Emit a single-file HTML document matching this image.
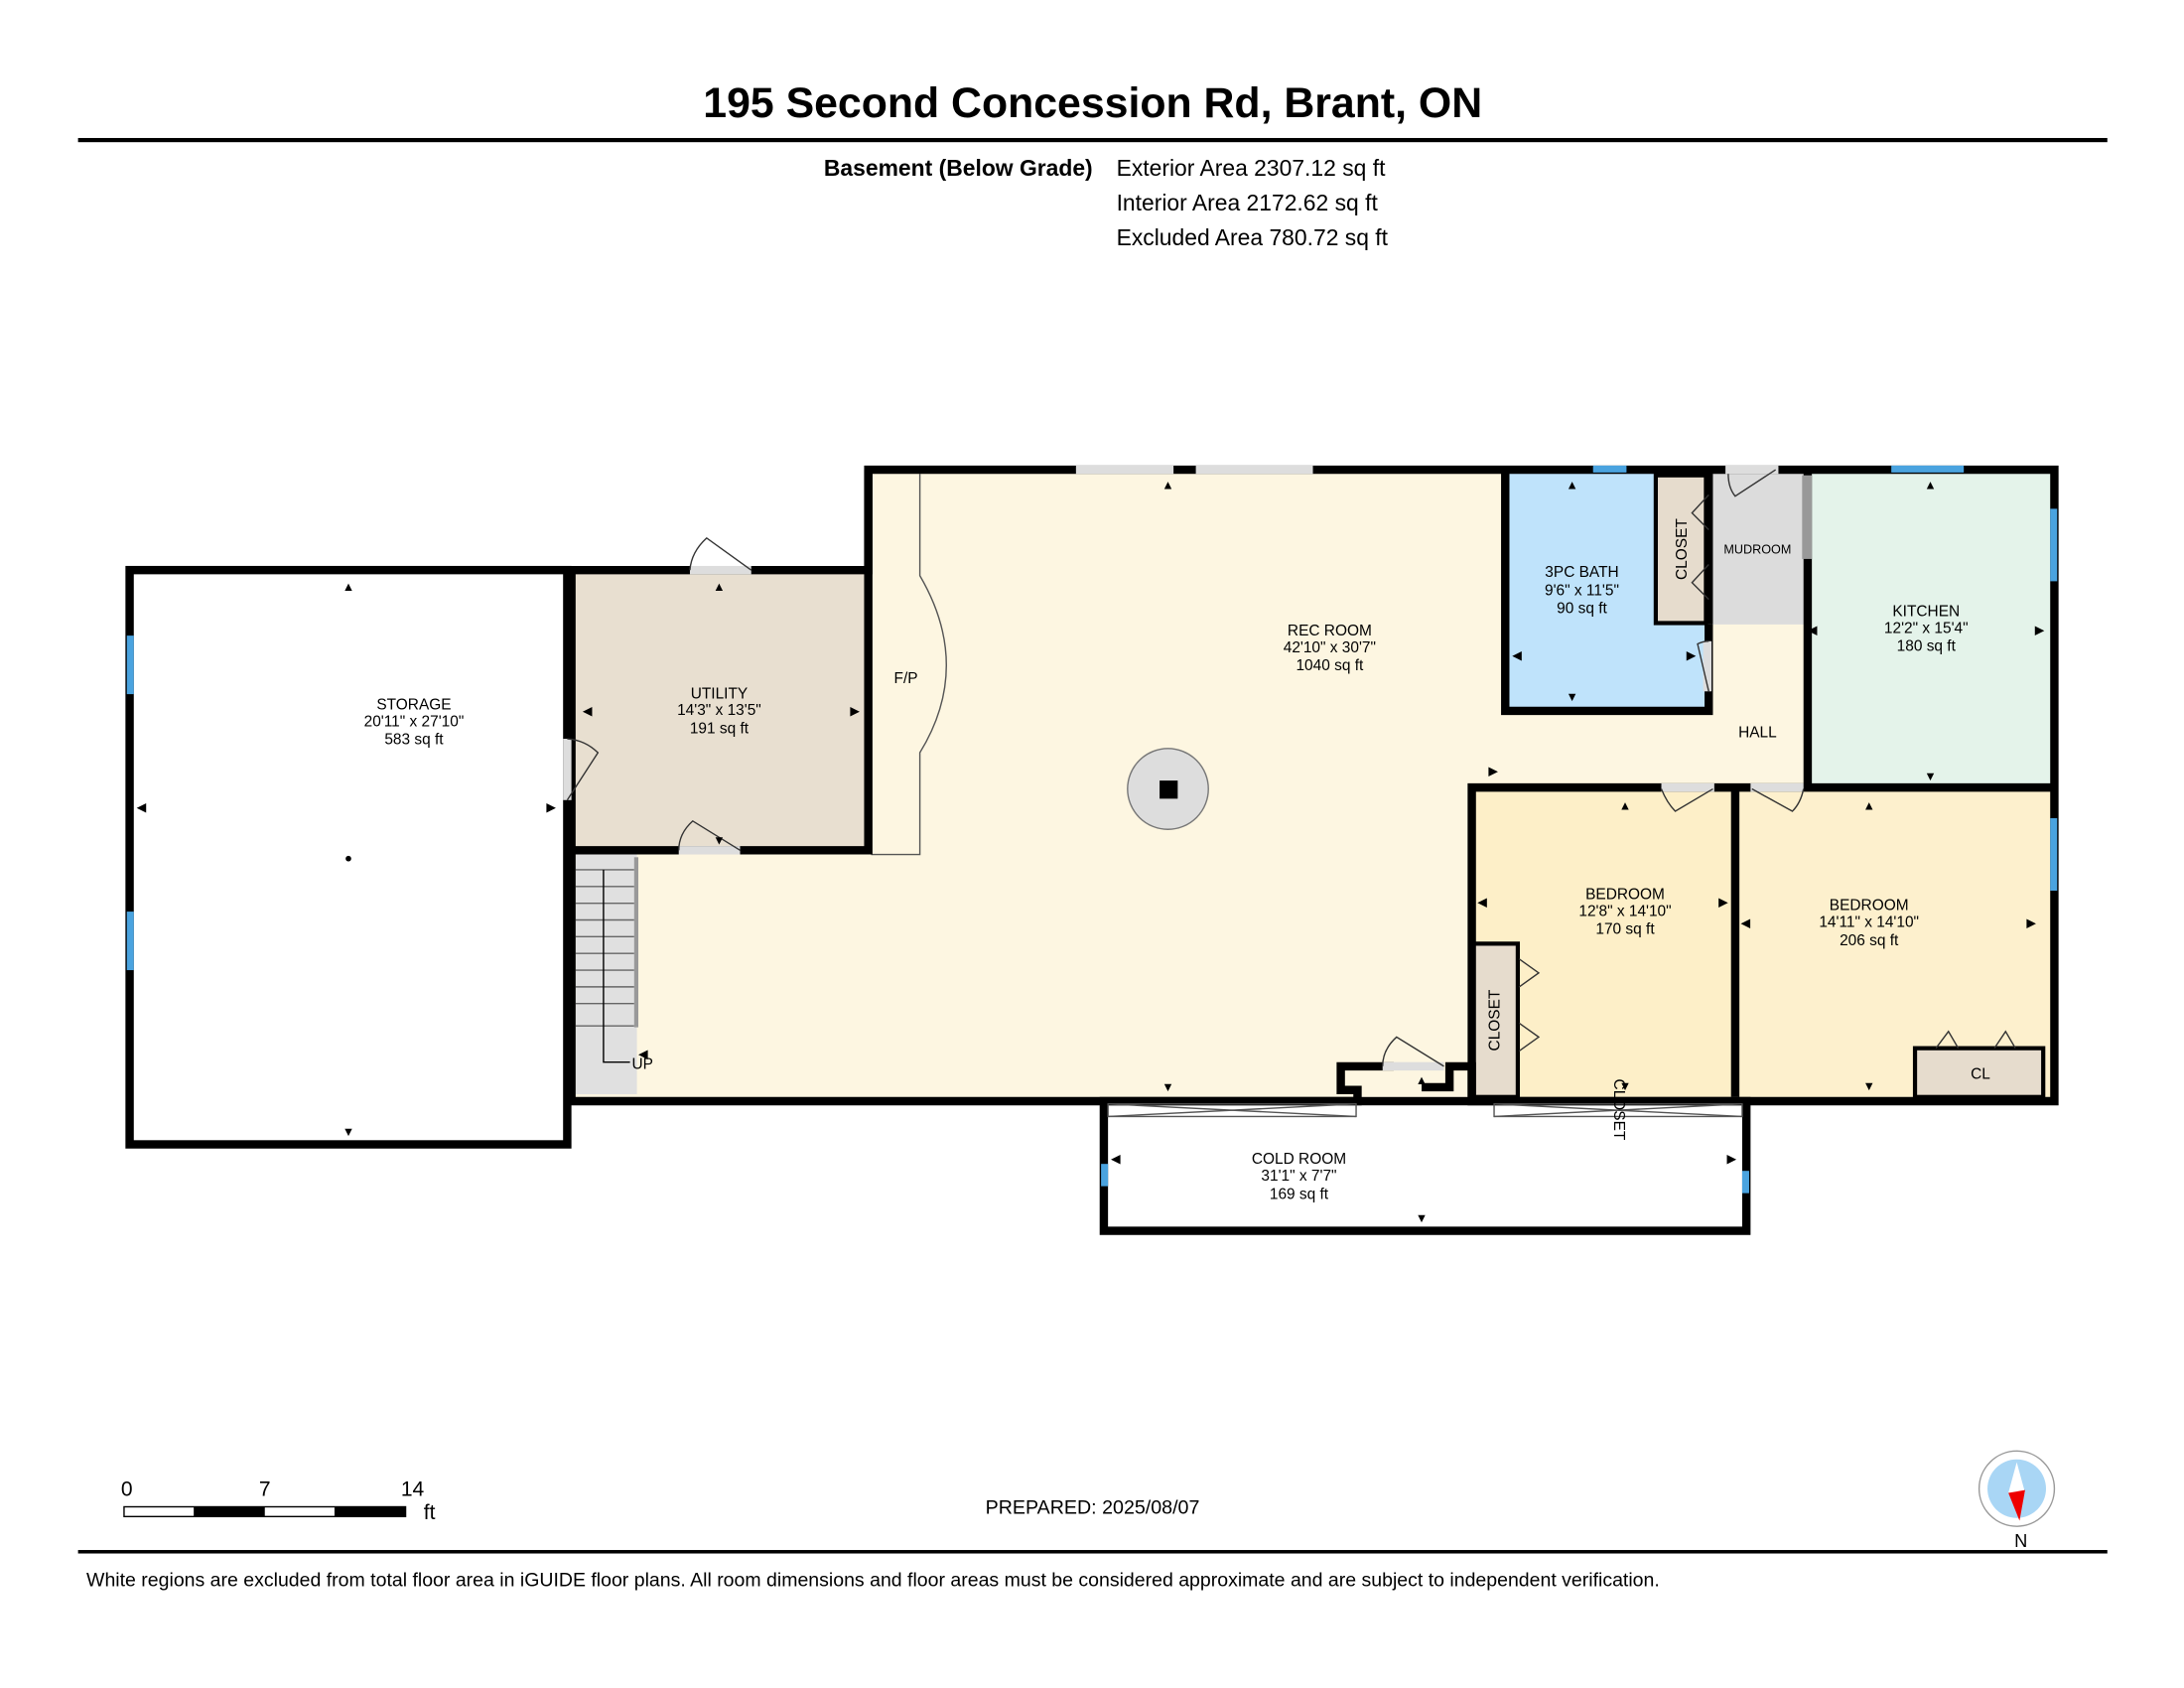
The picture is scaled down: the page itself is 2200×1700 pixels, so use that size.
<!DOCTYPE html>
<html><head><meta charset="utf-8"><style>
html,body{margin:0;padding:0;background:#fff;}
svg{display:block;}
text{font-family:"Liberation Sans",sans-serif;}
</style></head><body>
<svg width="2200" height="1700" viewBox="0 0 1567 1211" preserveAspectRatio="none" xmlns="http://www.w3.org/2000/svg">
<rect width="1600" height="1250" fill="#fff"/>
<text x="784" y="84" font-size="30.5" font-weight="bold" text-anchor="middle">195 Second Concession Rd, Brant, ON</text>
<rect x="56" y="99" width="1456" height="3" fill="#000"/>
<text x="784" y="126" font-size="16.3" font-weight="bold" text-anchor="end">Basement (Below Grade)</text>
<text x="801" y="126" font-size="16.3">Exterior Area 2307.12 sq ft</text>
<text x="801" y="151" font-size="16.3">Interior Area 2172.62 sq ft</text>
<text x="801" y="176" font-size="16.3">Excluded Area 780.72 sq ft</text>

<rect x="93" y="409" width="314" height="412" fill="#fff"/>
<rect x="410" y="410" width="213" height="200" fill="#e8dfd0"/>
<polygon points="623,337 1080,337 1080,510 1226,510 1226,448 1297,448 1297,565 1056,565 1056,787 410,787 410,610 623,610" fill="#fdf6e1"/>
<rect x="1080" y="337" width="146" height="173" fill="#bfe3fb"/>
<rect x="1226" y="337" width="71" height="111" fill="#dcdcdc"/>
<rect x="1188" y="341" width="36" height="106" fill="#e6dccd" stroke="#000" stroke-width="3"/>
<rect x="1297" y="337" width="177" height="228" fill="#e4f3ea"/>
<rect x="1056" y="565" width="189" height="222" fill="#fdefc8"/>
<rect x="1245" y="565" width="229" height="222" fill="#fdf0cd"/>
<rect x="1057" y="677" width="32" height="110" fill="#e6dccd" stroke="#000" stroke-width="3"/>
<rect x="1374" y="752" width="92" height="35" fill="#e6dccd" stroke="#000" stroke-width="3"/>
<rect x="413" y="613" width="44" height="172" fill="#e0e0e0"/>
<g stroke="#666" stroke-width="1">
<line x1="413" y1="624" x2="455" y2="624"/><line x1="413" y1="636" x2="455" y2="636"/><line x1="413" y1="648" x2="455" y2="648"/><line x1="413" y1="660" x2="455" y2="660"/><line x1="413" y1="672" x2="455" y2="672"/><line x1="413" y1="684" x2="455" y2="684"/><line x1="413" y1="696" x2="455" y2="696"/><line x1="413" y1="708" x2="455" y2="708"/><line x1="413" y1="720" x2="455" y2="720"/><line x1="413" y1="736" x2="455" y2="736"/>
<polyline points="433,624 433,762 452,762" fill="none" stroke="#000"/>
</g>
<rect x="455" y="615" width="3" height="122" fill="#999"/>
<g fill="none" stroke="#555" stroke-width="1">
<path d="M660,340 L660,413 Q698,478 660,540 L660,613 L625,613"/>
</g>
<g fill="none" stroke="#000" stroke-width="6" stroke-linejoin="miter">
<rect x="93" y="409" width="314" height="412"/>
<polyline points="407,409 623,409 623,337 1474,337 1474,790 1056,790 1056,765 1040,765 1040,780 1020,780"/>
<polyline points="1000,765 962,765 962,782 974,782 974,790 410,790 410,409"/>
<polyline points="410,610 623,610 623,337"/>
<polyline points="1080,337 1080,510 1226,510 1226,448"/>
<polyline points="1297,337 1297,565"/>
<polyline points="1226,337 1226,448"/>
<polyline points="1056,787 1056,565 1474,565"/>
<line x1="1245" y1="565" x2="1245" y2="787"/>
<rect x="792" y="790" width="461" height="93"/>
</g>
<g stroke="#555" stroke-width="1" fill="none">
<rect x="795" y="792" width="178" height="9"/><line x1="795" y1="792" x2="973" y2="801"/><line x1="795" y1="801" x2="973" y2="792"/>
<rect x="1072" y="792" width="178" height="9"/><line x1="1072" y1="792" x2="1250" y2="801"/><line x1="1072" y1="801" x2="1250" y2="792"/>
</g>
<g fill="#4aa3df">
<rect x="91" y="456" width="5" height="42"/><rect x="91" y="654" width="5" height="42"/>
<rect x="1143" y="334" width="24" height="5"/><rect x="1357" y="334" width="52" height="5"/>
<rect x="1471" y="365" width="5" height="52"/><rect x="1471" y="587" width="5" height="52"/>
<rect x="790" y="835" width="5" height="16"/><rect x="1250" y="840" width="5" height="16"/>
</g>
<g fill="#ddd">
<rect x="772" y="334" width="70" height="6"/><rect x="858" y="334" width="84" height="6"/>
<rect x="495" y="406" width="44" height="6"/><rect x="487" y="607" width="44" height="6"/>
<rect x="404" y="530" width="6" height="44"/><rect x="1238" y="334" width="38" height="6"/>
<rect x="1192" y="562" width="38" height="6"/><rect x="1256" y="562" width="38" height="6"/>
<rect x="992" y="762" width="44" height="6"/><rect x="1222" y="460" width="6" height="36"/>
<rect x="1293" y="341" width="7" height="60" fill="#999"/>
</g>
<g fill="none" stroke="#333" stroke-width="1">
<path d="M539,409 L507,386 Q496,396 495,409"/>
<path d="M531,610 L497,589 Q487,598 487,610"/>
<path d="M407,574 L429,540 Q420,531 407,530"/>
<path d="M1036,765 L1002,744 Q992,753 992,765"/>
<path d="M1240,340 Q1240,350 1245,356 L1274,337"/>
<path d="M1192,566 Q1196,576 1202,582 L1229,566"/>
<path d="M1294,566 Q1292,576 1286,582 L1257,566"/>
<path d="M1226,496 L1218,462 Q1222,460 1226,460"/>
<path d="M1226,355 L1214,368 L1226,380 M1226,405 L1214,418 L1226,430"/>
<path d="M1090,688 L1104,698 L1090,708 M1090,734 L1104,744 L1090,754"/>
<path d="M1389,752 L1398,740 L1405,752 M1431,752 L1439,740 L1446,752"/>
</g>
<circle cx="838" cy="566" r="29" fill="#ddd" stroke="#777"/>
<rect x="832" y="560" width="13" height="13" fill="#000"/>
<circle cx="250" cy="616" r="2" fill="#000"/>
<g fill="#000" font-size="9">
<text x="250" y="424" text-anchor="middle">▲</text><text x="250" y="815" text-anchor="middle">▼</text>
<text x="98" y="582">◀</text><text x="392" y="582">▶</text>
<text x="516" y="424" text-anchor="middle">▲</text><text x="516" y="606" text-anchor="middle">▼</text>
<text x="418" y="513">◀</text><text x="610" y="513">▶</text>
<text x="838" y="351" text-anchor="middle">▲</text><text x="838" y="783" text-anchor="middle">▼</text>
<text x="1068" y="556">▶</text><text x="458" y="759">◀</text>
<text x="1128" y="351" text-anchor="middle">▲</text><text x="1128" y="503" text-anchor="middle">▼</text>
<text x="1085" y="473">◀</text><text x="1210" y="473">▶</text>
<text x="1385" y="351" text-anchor="middle">▲</text><text x="1385" y="560" text-anchor="middle">▼</text>
<text x="1297" y="455">◀</text><text x="1460" y="455">▶</text>
<text x="1166" y="581" text-anchor="middle">▲</text><text x="1166" y="782" text-anchor="middle">▼</text>
<text x="1060" y="650">◀</text><text x="1233" y="650">▶</text>
<text x="1341" y="581" text-anchor="middle">▲</text><text x="1341" y="782" text-anchor="middle">▼</text>
<text x="1249" y="665">◀</text><text x="1454" y="665">▶</text>
<text x="1020" y="778" text-anchor="middle">▲</text><text x="1020" y="877" text-anchor="middle">▼</text>
<text x="797" y="834">◀</text><text x="1239" y="834">▶</text>
</g>
<g font-size="11" text-anchor="middle" fill="#000">
<text x="297" y="509">STORAGE</text><text x="297" y="521">20'11" x 27'10"</text><text x="297" y="534">583 sq ft</text>
<text x="516" y="501">UTILITY</text><text x="516" y="513">14'3" x 13'5"</text><text x="516" y="526">191 sq ft</text>
<text x="650" y="490">F/P</text>
<text x="954" y="456">REC ROOM</text><text x="954" y="468">42'10" x 30'7"</text><text x="954" y="481">1040 sq ft</text>
<text x="1135" y="414">3PC BATH</text><text x="1135" y="427">9'6" x 11'5"</text><text x="1135" y="440">90 sq ft</text>
<text x="1261" y="397" font-size="9">MUDROOM</text>
<text x="1382" y="442">KITCHEN</text><text x="1382" y="454">12'2" x 15'4"</text><text x="1382" y="467">180 sq ft</text>
<text x="1261" y="529">HALL</text>
<text x="1166" y="645">BEDROOM</text><text x="1166" y="657">12'8" x 14'10"</text><text x="1166" y="670">170 sq ft</text>
<text x="1341" y="653">BEDROOM</text><text x="1341" y="665">14'11" x 14'10"</text><text x="1341" y="678">206 sq ft</text>
<text x="1421" y="774">CL</text>
<text x="932" y="835">COLD ROOM</text><text x="932" y="847">31'1" x 7'7"</text><text x="932" y="860">169 sq ft</text>
<text x="461" y="767">UP</text>
<text transform="translate(1210,394) rotate(-90)">CLOSET</text>
<text transform="translate(1076,732) rotate(-90)">CLOSET</text>
<text transform="translate(1158,796) rotate(90)">CLOSET</text>
</g>
<g font-size="15">
<text x="91" y="1073" text-anchor="middle">0</text><text x="190" y="1073" text-anchor="middle">7</text><text x="296" y="1073" text-anchor="middle">14</text>
<text x="304" y="1090">ft</text>
</g>
<rect x="89" y="1081" width="202" height="7" fill="#fff" stroke="#000" stroke-width="1"/>
<rect x="139" y="1081" width="51" height="7" fill="#000"/><rect x="240" y="1081" width="51" height="7" fill="#000"/>
<text x="707" y="1086" font-size="14">PREPARED: 2025/08/07</text>
<circle cx="1447" cy="1068" r="27" fill="#fff" stroke="#999"/>
<circle cx="1447" cy="1068" r="21" fill="#a9d6f5"/>
<polygon points="1447,1049 1441,1071 1453,1071" fill="#fff"/>
<polygon points="1441,1071 1453,1069 1449,1091" fill="#e00"/>
<text x="1450" y="1110" font-size="13" text-anchor="middle">N</text>
<rect x="56" y="1112" width="1456" height="2.5" fill="#000"/>
<text x="62" y="1138" font-size="13.9">White regions are excluded from total floor area in iGUIDE floor plans. All room dimensions and floor areas must be considered approximate and are subject to independent verification.</text>
</svg>
</body></html>
